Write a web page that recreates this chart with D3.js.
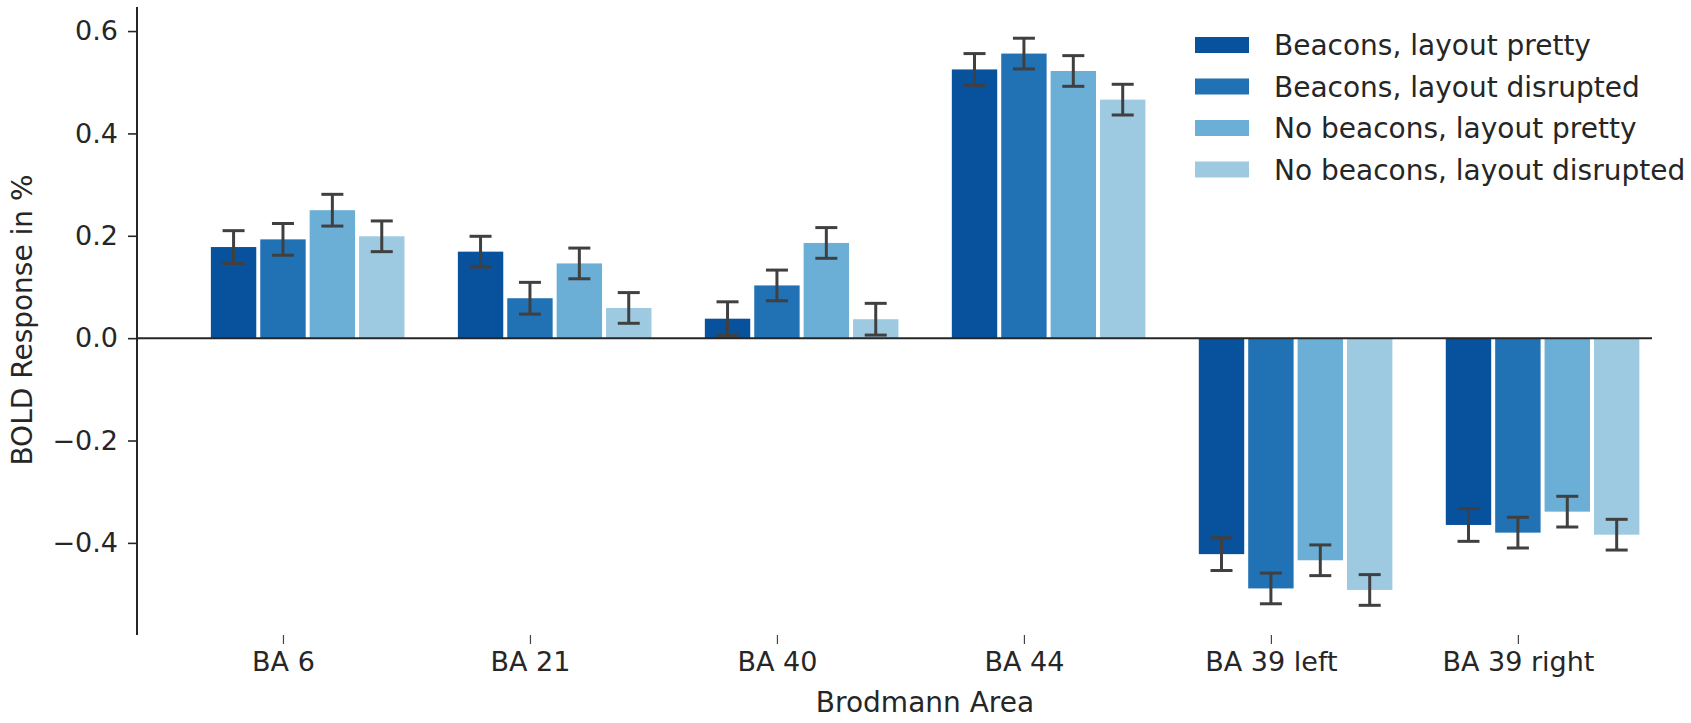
<!DOCTYPE html>
<html>
<head>
<meta charset="utf-8">
<script src="https://cdn.jsdelivr.net/npm/d3@7"></script>
<style>
  html, body { margin: 0; padding: 0; background: #fff; }
  svg { display: block; }
  text { font-family: "DejaVu Sans", sans-serif; fill: #262626; }
</style>
</head>
<body>
<svg id="chart" width="1691" height="723"></svg>
<script>
// Brodmann areas on the x axis
const areas = ["BA 6", "BA 21", "BA 40", "BA 44", "BA 39 left", "BA 39 right"];

// Conditions (one bar per area each)
const conditions = [
  "Beacons, layout pretty",
  "Beacons, layout disrupted",
  "No beacons, layout pretty",
  "No beacons, layout disrupted"
];

// Mean BOLD response (%) per condition, ordered like `areas`
const beaconsPretty      = [0.178, 0.169, 0.038, 0.525, -0.422, -0.365];
const beaconsDisrupted   = [0.193, 0.078, 0.103, 0.556, -0.489, -0.380];
const noBeaconsPretty    = [0.250, 0.146, 0.186, 0.522, -0.434, -0.339];
const noBeaconsDisrupted = [0.199, 0.059, 0.037, 0.466, -0.492, -0.384];

// Standard errors, same layout
const errBeaconsPretty      = [0.032, 0.030, 0.033, 0.031, 0.032, 0.032];
const errBeaconsDisrupted   = [0.031, 0.031, 0.030, 0.030, 0.030, 0.030];
const errNoBeaconsPretty    = [0.031, 0.030, 0.030, 0.030, 0.030, 0.030];
const errNoBeaconsDisrupted = [0.030, 0.030, 0.031, 0.030, 0.030, 0.030];

const yTicks = [-0.4, -0.2, 0.0, 0.2, 0.4, 0.6];

const seriesValues = [beaconsPretty, beaconsDisrupted, noBeaconsPretty, noBeaconsDisrupted];
const seriesErrors = [errBeaconsPretty, errBeaconsDisrupted, errNoBeaconsPretty, errNoBeaconsDisrupted];
const colors = ["#08519c", "#2171b5", "#6baed6", "#9ecae1"];

const svg = d3.select("#chart");
svg.append("rect").attr("width", 1691).attr("height", 723).attr("fill", "#fff");

const plotLeft = 137, plotRight = 1652, plotTop = 7, plotBottom = 635;
const tickFont = 27, labelFont = 28;

// Category index on a linear scale; bar k of a group sits at i + (k-1)*barW
const x = d3.scaleLinear().domain([-0.591, 5.543]).range([plotLeft, plotRight]);
const y = d3.scaleLinear().domain([-0.580, 0.647]).range([plotBottom, plotTop]);
const barW = 0.2;
const gap = 4;

const rows = [];
seriesValues.forEach((vals, k) => {
  vals.forEach((v, i) => {
    rows.push({ k, i, v, e: seriesErrors[k][i] });
  });
});

// Bars
svg.append("g").selectAll("rect").data(rows).join("rect")
  .attr("x", d => x(d.i + (d.k - 1) * barW - barW / 2) + gap / 2)
  .attr("width", d => x(barW) - x(0) - gap)
  .attr("y", d => y(Math.max(0, d.v)))
  .attr("height", d => Math.abs(y(d.v) - y(0)))
  .attr("fill", d => colors[d.k]);

// Error bars
const eb = svg.append("g").attr("stroke", "#404040").attr("stroke-width", 3);
const cap = 11;
rows.forEach(d => {
  const cx = x(d.i + (d.k - 1) * barW);
  const y1 = y(d.v + d.e), y2 = y(d.v - d.e);
  eb.append("line").attr("x1", cx).attr("x2", cx).attr("y1", y1).attr("y2", y2);
  eb.append("line").attr("x1", cx - cap).attr("x2", cx + cap).attr("y1", y1).attr("y2", y1);
  eb.append("line").attr("x1", cx - cap).attr("x2", cx + cap).attr("y1", y2).attr("y2", y2);
});

// Zero line
svg.append("line")
  .attr("x1", plotLeft).attr("x2", plotRight)
  .attr("y1", y(0)).attr("y2", y(0))
  .attr("stroke", "#262626").attr("stroke-width", 2);

// Y axis
const yAxis = svg.append("g")
  .attr("transform", `translate(${plotLeft},0)`)
  .call(d3.axisLeft(y).tickValues(yTicks).tickFormat(d3.format(".1f")).tickSize(9).tickPadding(10).tickSizeOuter(0));
yAxis.select(".domain").attr("stroke", "#262626").attr("stroke-width", 2)
  .attr("d", `M0,${plotTop}V${plotBottom}`);
yAxis.selectAll(".tick line").attr("stroke", "#262626").attr("stroke-width", 1.6);
yAxis.selectAll(".tick text").attr("font-size", tickFont).attr("font-family", "DejaVu Sans").attr("fill", "#262626");

// X axis (ticks only, no spine)
const xAxis = svg.append("g")
  .attr("transform", `translate(0,${plotBottom})`)
  .call(d3.axisBottom(x).tickValues(d3.range(areas.length)).tickFormat(i => areas[i]).tickSize(9).tickPadding(8));
xAxis.select(".domain").remove();
xAxis.selectAll(".tick line").attr("stroke", "#444").attr("stroke-width", 1.2);
xAxis.selectAll(".tick text").attr("font-size", tickFont).attr("font-family", "DejaVu Sans").attr("fill", "#262626");

// Axis titles
svg.append("text")
  .attr("x", 925).attr("y", 712)
  .attr("text-anchor", "middle").attr("font-size", labelFont)
  .text("Brodmann Area");
svg.append("text")
  .attr("transform", "translate(32,320) rotate(-90)")
  .attr("text-anchor", "middle").attr("font-size", labelFont)
  .text("BOLD Response in %");

// Legend
const legend = svg.append("g").attr("transform", "translate(1195,45)");
conditions.forEach((c, k) => {
  const g = legend.append("g").attr("transform", `translate(0,${k * 41.5})`);
  g.append("rect").attr("x", 0).attr("y", -8).attr("width", 54).attr("height", 16).attr("fill", colors[k]);
  g.append("text").attr("x", 79).attr("y", 0).attr("dy", "0.36em").attr("font-size", labelFont).text(c);
});
</script>
</body>
</html>
